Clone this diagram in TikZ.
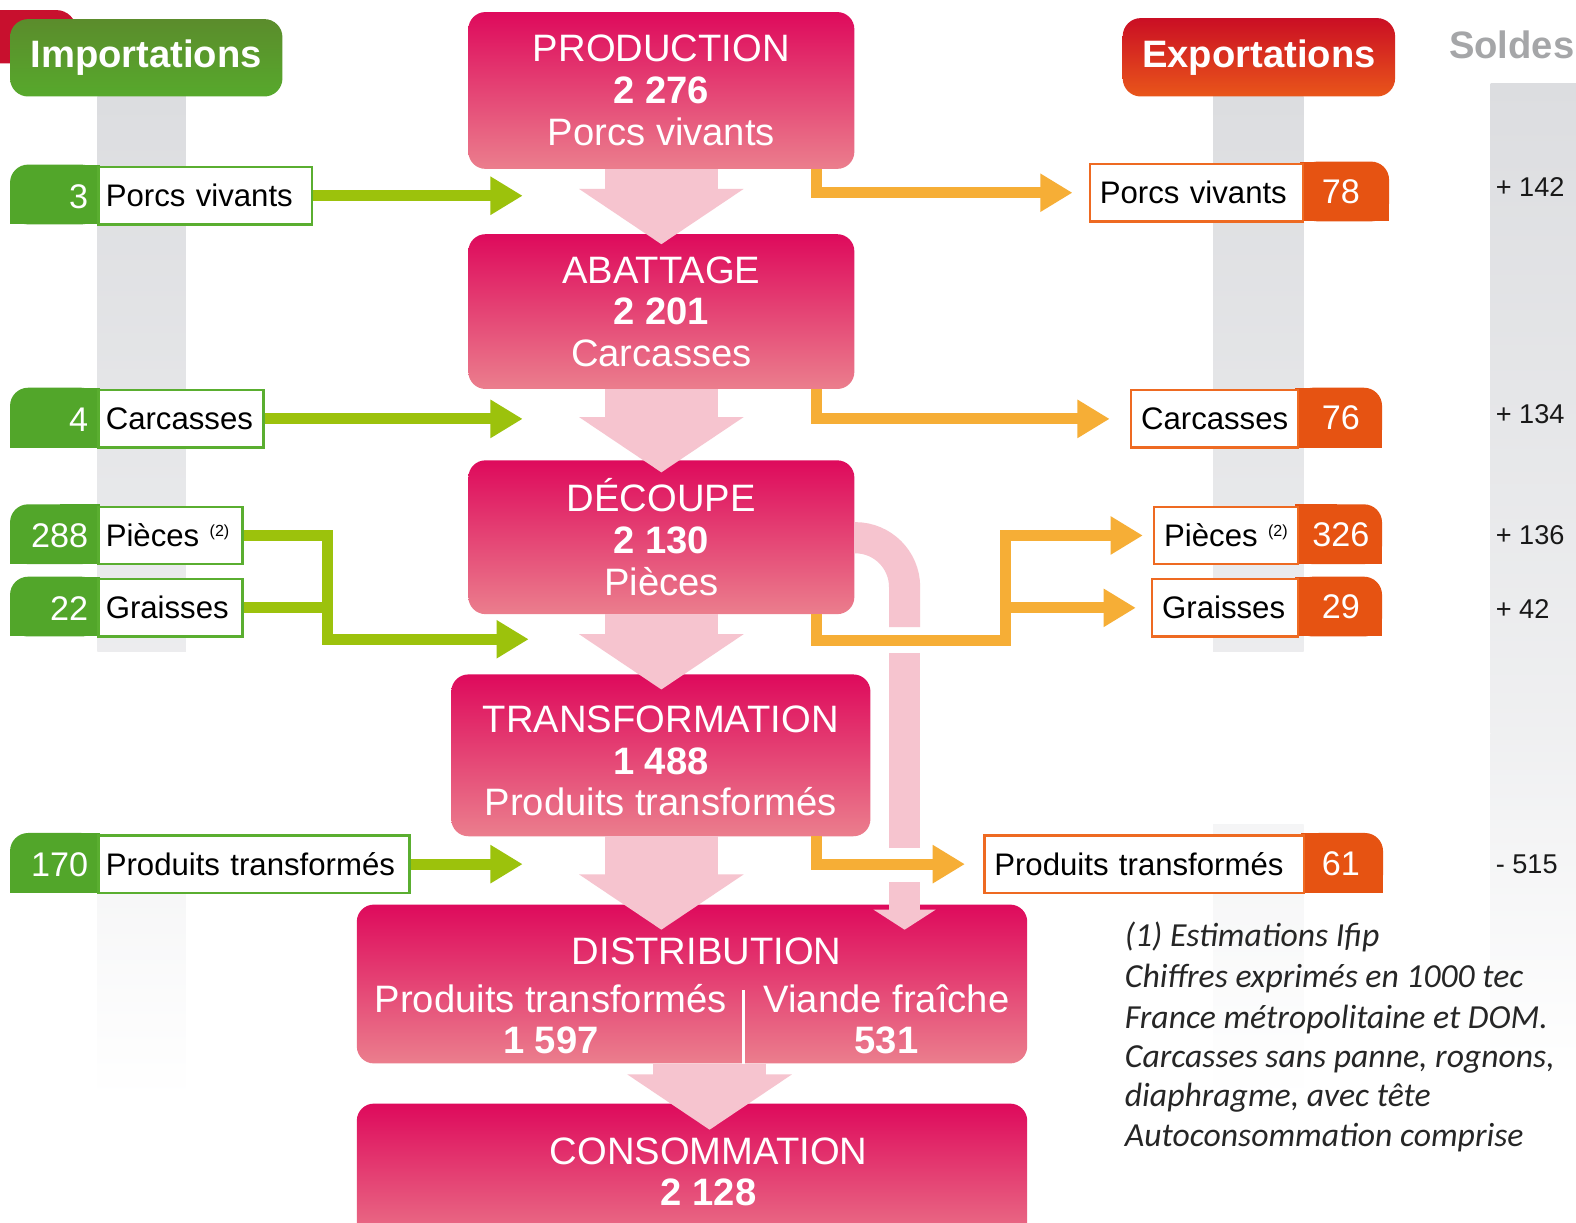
\documentclass[tikz,border=0pt]{standalone}
\usepackage{fontspec}
\setmainfont{Liberation Sans}
\newfontfamily\notefont{Carlito}
\usetikzlibrary{arrows.meta,calc}
\definecolor{mtop}{HTML}{DE0A5C}
\definecolor{mbot}{HTML}{EB7E8D}
\definecolor{imptop}{HTML}{5B8C2C}
\definecolor{impbot}{HTML}{57A92C}
\definecolor{exptop}{HTML}{CA0E24}
\definecolor{expbot}{HTML}{E9561A}
\definecolor{gtab}{HTML}{52A62A}
\definecolor{gborder}{HTML}{5AAE30}
\definecolor{otab}{HTML}{E65312}
\definecolor{oborder}{HTML}{EE6A22}
\definecolor{garr}{HTML}{9CC20C}
\definecolor{oarr}{HTML}{F6AE36}
\definecolor{parr}{HTML}{F6C4CF}
\definecolor{barg}{HTML}{DCDDE0}
\definecolor{soldesg}{HTML}{A5A6A8}
\definecolor{redtab}{HTML}{C8102E}
\newcommand\notesup{\raisebox{10pt}{\fontsize{16}{16}\selectfont(2)}}
% import row: name, top y, text width (number), number, label
\newcommand\improw[5]{%
  \fill[gtab, rounded corners=18pt] (10,#2-1.25) rectangle (99,#2+58.25);
  \fill[gtab] (10,#2+28) rectangle (99,#2+58.25);
  \fill[gtab] (60,#2-1.25) rectangle (99,#2+58.25);
  \node[implabel, text width=#3pt] (#1) at (97,#2) {\mbox{#5}};
  \node[impnum, anchor=east] (#1n) at ($(#1.west)+(-9,0)$) {#4};
}
% export row: name, top y, x left, text width (number), tab right, number, label
\newcommand\exprow[7]{%
  \fill[otab, rounded corners=18pt] (#3+#4+18,#2-1.25) rectangle (#5,#2+58.25);
  \fill[otab] (#3+#4+18,#2+28) rectangle (#5,#2+58.25);
  \fill[otab] (#3+#4+18,#2-1.25) rectangle (#3+#4+60,#2+58.25);
  \node[explabel, text width=#4pt] (#1) at (#3,#2) {\mbox{#7}};
  \node[impnum] (#1n) at (1334,#2+28.5) {#6};
}
\begin{document}
\begin{tikzpicture}[x=1pt,y=-1pt,
  mainbox/.style={rounded corners=17pt, top color=mtop, bottom color=mbot, text=white, align=center, inner sep=0pt, font=\fontsize{38}{41.5}\selectfont},
  maintext/.style={text=white, align=center, inner sep=0pt, font=\fontsize{38}{41.5}\selectfont},
  hdr/.style={rounded corners=18pt, text=white, inner sep=0pt, font=\fontsize{38}{38}\selectfont\bfseries},
  implabel/.style={draw=gborder, line width=2.5pt, fill=white, text=black, anchor=north west, minimum height=57pt, inner xsep=7pt, inner ysep=0pt, align=left, font=\fontsize{31}{37}\selectfont, text height=26pt, text depth=4pt},
  explabel/.style={implabel, draw=oborder, inner xsep=10pt},
  impnum/.style={text=white, inner sep=0pt, font=\fontsize{34}{34}\selectfont, text height=28pt, text depth=3.6pt},
  pinkdown/.style={draw=parr, line width=112pt, -{Triangle[width=161pt,length=55pt]}},
  pinkband/.style={draw=parr, line width=31pt},
  garrow/.style={draw=garr, line width=11pt, -{Triangle[width=36pt,length=32pt]}},
  gline/.style={draw=garr, line width=11pt},
  oarrow/.style={draw=oarr, line width=11pt, -{Triangle[width=36pt,length=32pt]}},
  solde/.style={anchor=west, inner sep=0pt, text=black!90, font=\fontsize{27}{27}\selectfont},
  note/.style={anchor=base west, inner sep=0pt, text=black!85, font=\notefont\itshape\fontsize{33.5}{40}\selectfont}
]
\useasboundingbox (0,0) rectangle (1568,1216);
\clip (0,0) rectangle (1568,1216);
\fill[white] (0,0) rectangle (1568,1216);

% grey background bars
\shade[top color=barg, bottom color=barg!55!white] (97,96) rectangle (185,648);
\shade[top color=barg!30!white, bottom color=white] (97,834) rectangle (185,1095);
\shade[top color=barg, bottom color=barg!55!white] (1207,96) rectangle (1297,648);
\shade[top color=barg!30!white, bottom color=white] (1207,820) rectangle (1297,1095);
\shade[top color=barg, bottom color=barg!45!white] (1483,83) rectangle (1568,730);
\shade[top color=barg!45!white, bottom color=white] (1483,730) rectangle (1568,1075);

% headers
\fill[redtab, rounded corners=20pt] (-40,10) rectangle (76,63);
\node[hdr, top color=imptop, bottom color=impbot, minimum width=271pt, minimum height=77pt] (imp) at (145.5,57.5) {Importations};
\node[hdr, top color=exptop, bottom color=expbot, minimum width=271pt, minimum height=78pt] (exp) at (1252.5,57) {Exportations};
\node[text=soldesg, inner sep=0pt, font=\fontsize{38}{38}\selectfont\bfseries] (sol) at (1504,45) {Soldes};

% main chain
\node[mainbox, minimum width=384pt, minimum height=156pt] (prod) at (658,90) {PRODUCTION\\\textbf{2 276}\\Porcs vivants};
\node[mainbox, minimum width=384pt, minimum height=154pt] (abat) at (658,310) {ABATTAGE\\\textbf{2 201}\\Carcasses};
\node[mainbox, minimum width=384pt, minimum height=153pt] (dec) at (658,534.5) {DÉCOUPE\\\textbf{2 130}\\Pièces};
\node[mainbox, minimum width=417pt, minimum height=161pt] (trans) at (657.5,751.5) {};
\node[maintext] (transt) at (657.5,757) {TRANSFORMATION\\\textbf{1 488}\\Produits transformés};
\node[mainbox, minimum width=667pt, minimum height=158pt] (dist) at (688.5,979) {};
\node[mainbox, minimum width=667pt, minimum height=152pt] (cons) at (688.5,1174) {};
\node[maintext] (distt) at (703,947) {DISTRIBUTION};
\node[maintext] (distl) at (548,1014) {Produits transformés\\\textbf{1 597}};
\node[maintext] (distr) at (882,1014) {Viande fraîche\\\textbf{531}};
\node[maintext] (const) at (705,1166) {CONSOMMATION\\\textbf{2 128}};
\coordinate (sep) at (740,985);
\draw[white, line width=3pt] (sep) -- (sep |- dist.south);

% pink flow arrows
\coordinate (t1) at (658,243);
\coordinate (t2) at (658,470);
\coordinate (t3) at (658,686);
\coordinate (t4) at (658,925);
\coordinate (t5) at (706,1124);
\draw[pinkdown] (prod.south) -- (t1);
\draw[pinkdown] (abat.south) -- (t2);
\draw[pinkdown] (dec.south) -- (t3);
\draw[pinkdown] (trans.south -| t4) -- (t4);
\draw[pinkdown] (dist.south -| t5) -- (t5);

% pink bypass band
\coordinate (pb1) at (900,535);
\coordinate (pb2) at (900,624);
\coordinate (pb3) at (900,650);
\coordinate (pb4) at (900,844);
\coordinate (pb5) at (900,878);
\coordinate (pb6) at (900,925);
\draw[pinkband, rounded corners=49pt] (dec.east |- pb1) -- (pb1) -- (pb2);
\draw[pinkband] (pb3) -- (pb4);
\draw[pinkband, -{Triangle[width=61pt,length=20pt]}] (pb5) -- (pb6);

% import rows
\improw{i1}{165}{198}{3}{Porcs vivants}
\improw{i2}{387}{150}{4}{Carcasses}
\improw{i3}{503}{129}{288}{Pièces \notesup}
\improw{i4}{575}{129}{22}{Graisses}
\improw{i5}{830}{295}{170}{Produits transformés}

% export rows
\exprow{e1}{162}{1083}{192}{1382}{78}{Porcs vivants}
\exprow{e2}{387}{1124}{146}{1375}{76}{Carcasses}
\exprow{e3}{503}{1147}{123}{1375}{326}{Pièces \notesup}
\exprow{e4}{575}{1145}{125}{1375}{29}{Graisses}
\exprow{e5}{830}{978}{298}{1376}{61}{Produits transformés}

% import arrows
\coordinate (gx) at (520,0);
\coordinate (gj) at (326,636);
\coordinate (g3) at (526,636);
\draw[garrow] (i1.east) -- (i1.east -| gx);
\draw[garrow] (i2.east) -- (i2.east -| gx);
\draw[garrow] (i3.east) -| (gj) -- (g3);
\draw[gline] (i4.east) -- (i4.east -| gj);
\draw[garrow] (i5.east) -- (i5.east -| gx);

% export arrows
\coordinate (ox) at (812,0);
\coordinate (oj) at (1000,637);
\draw[oarrow, shorten >=16pt] (prod.south -| ox) |- (e1.west);
\draw[oarrow, shorten >=20pt] (abat.south -| ox) |- (e2.west);
\draw[oarrow, shorten >=10pt] (dec.south -| ox) |- (oj) |- (e3.west);
\draw[oarrow, shorten >=15pt] (oj |- e4.west) -- (e4.west);
\draw[oarrow, shorten >=18pt] (trans.south -| ox) |- (e5.west);

% balances
\node[solde] (s1) at (1488,186) {+ 142};
\node[solde] (s2) at (1488,412) {+ 134};
\node[solde] (s3) at (1488,532) {+ 136};
\node[solde] (s4) at (1488,606) {+ 42};
\node[solde] (s5) at (1488,860) {- 515};

% notes
\node[note] (f1) at (1119,942) {(1) Estimations Ifip};
\node[note] (f2) at (1119,982) {Chiffres exprimés en 1000 tec};
\node[note] (f3) at (1119,1023) {France métropolitaine et DOM.};
\node[note] (f4) at (1119,1062) {Carcasses sans panne, rognons,};
\node[note] (f5) at (1119,1101) {diaphragme, avec tête};
\node[note] (f6) at (1119,1141) {Autoconsommation comprise};
\end{tikzpicture}
\end{document}
